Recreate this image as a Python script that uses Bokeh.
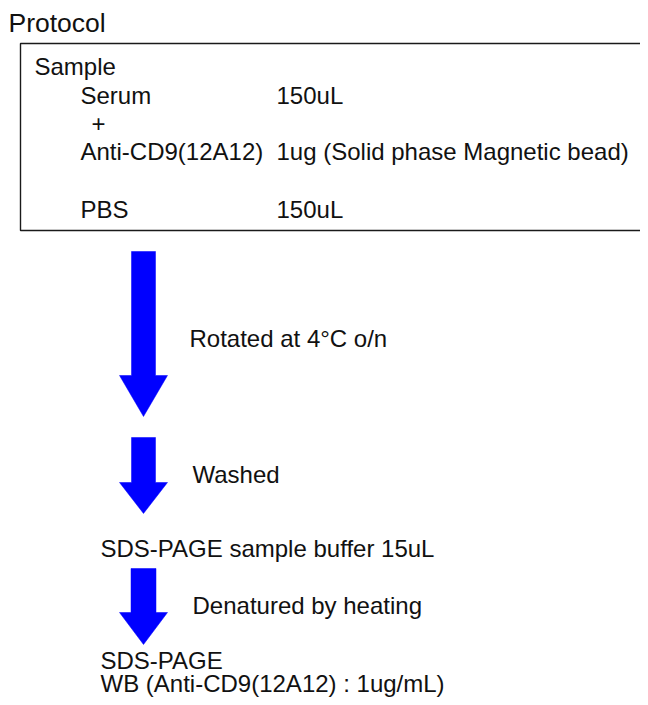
from bokeh.plotting import figure
from bokeh.models import Range1d, ColumnDataSource
from bokeh.core.properties import value
from bokeh.embed import file_html
from bokeh.resources import INLINE

# ---- data (picture pixel coordinates used as data units) ----
title_text = ["Protocol"]
title_x = [8]
title_y = [22]

labels = ["Sample", "Serum", "150uL", "+", "Anti-CD9(12A12)",
          "1ug (Solid phase Magnetic bead)", "PBS", "150uL",
          "Rotated at 4\u00b0C o/n", "Washed", "SDS-PAGE sample buffer 15uL",
          "Denatured by heating", "SDS-PAGE", "WB (Anti-CD9(12A12) : 1ug/mL)"]
label_x = [34, 80, 276, 91, 80, 276, 80, 276, 189, 192, 100, 192, 100, 100]
label_y = [66, 95, 95, 123, 151, 151, 209, 209, 338, 474, 548, 605, 660, 683]

box_left, box_right, box_top, box_bottom = [20], [700], [43], [230]

# arrows: centre x, shaft top, head start, tip, shaft half-width, head half-width
arrow_cx = [143, 143, 143]
arrow_top = [251, 437, 568]
arrow_head = [375, 482, 612]
arrow_tip = [416, 513, 644]
arrow_shaft_hw = [12, 12, 12.5]
arrow_head_hw = [24, 24, 24]

xs, ys = [], []
for cx, t, h, tip, sw, hw in zip(arrow_cx, arrow_top, arrow_head, arrow_tip,
                                 arrow_shaft_hw, arrow_head_hw):
    xs.append([cx - sw, cx + sw, cx + sw, cx + hw, cx, cx - hw, cx - sw])
    ys.append([t, t, h, h, tip, h, h])

p = figure(width=640, height=697, x_range=Range1d(0, 640), y_range=Range1d(697, 0),
           output_backend="svg", toolbar_location=None, min_border=0,
           x_axis_type=None, y_axis_type=None)
p.grid.visible = False
p.outline_line_color = None
p.background_fill_color = "white"
p.border_fill_color = "white"

p.quad(left=box_left, right=box_right, top=box_top, bottom=box_bottom,
       fill_color=None, line_color="#1a1a1a", line_width=1.4)

p.patches(xs, ys, fill_color="#0000FF", line_color="#0000FF", line_width=0.5)

p.text(x=title_x, y=title_y, text=title_text, text_font=value("Liberation Sans"),
       text_font_size="26.5px", text_color="#111111", text_baseline="alphabetic",
       text_align="left")

src = ColumnDataSource(dict(x=label_x, y=label_y, t=labels))
p.text(x="x", y="y", text="t", source=src, text_font=value("Liberation Sans"),
       text_font_size="24px", text_color="#111111", text_baseline="alphabetic",
       text_align="left")

open("out.html", "w").write(file_html(p, INLINE))
